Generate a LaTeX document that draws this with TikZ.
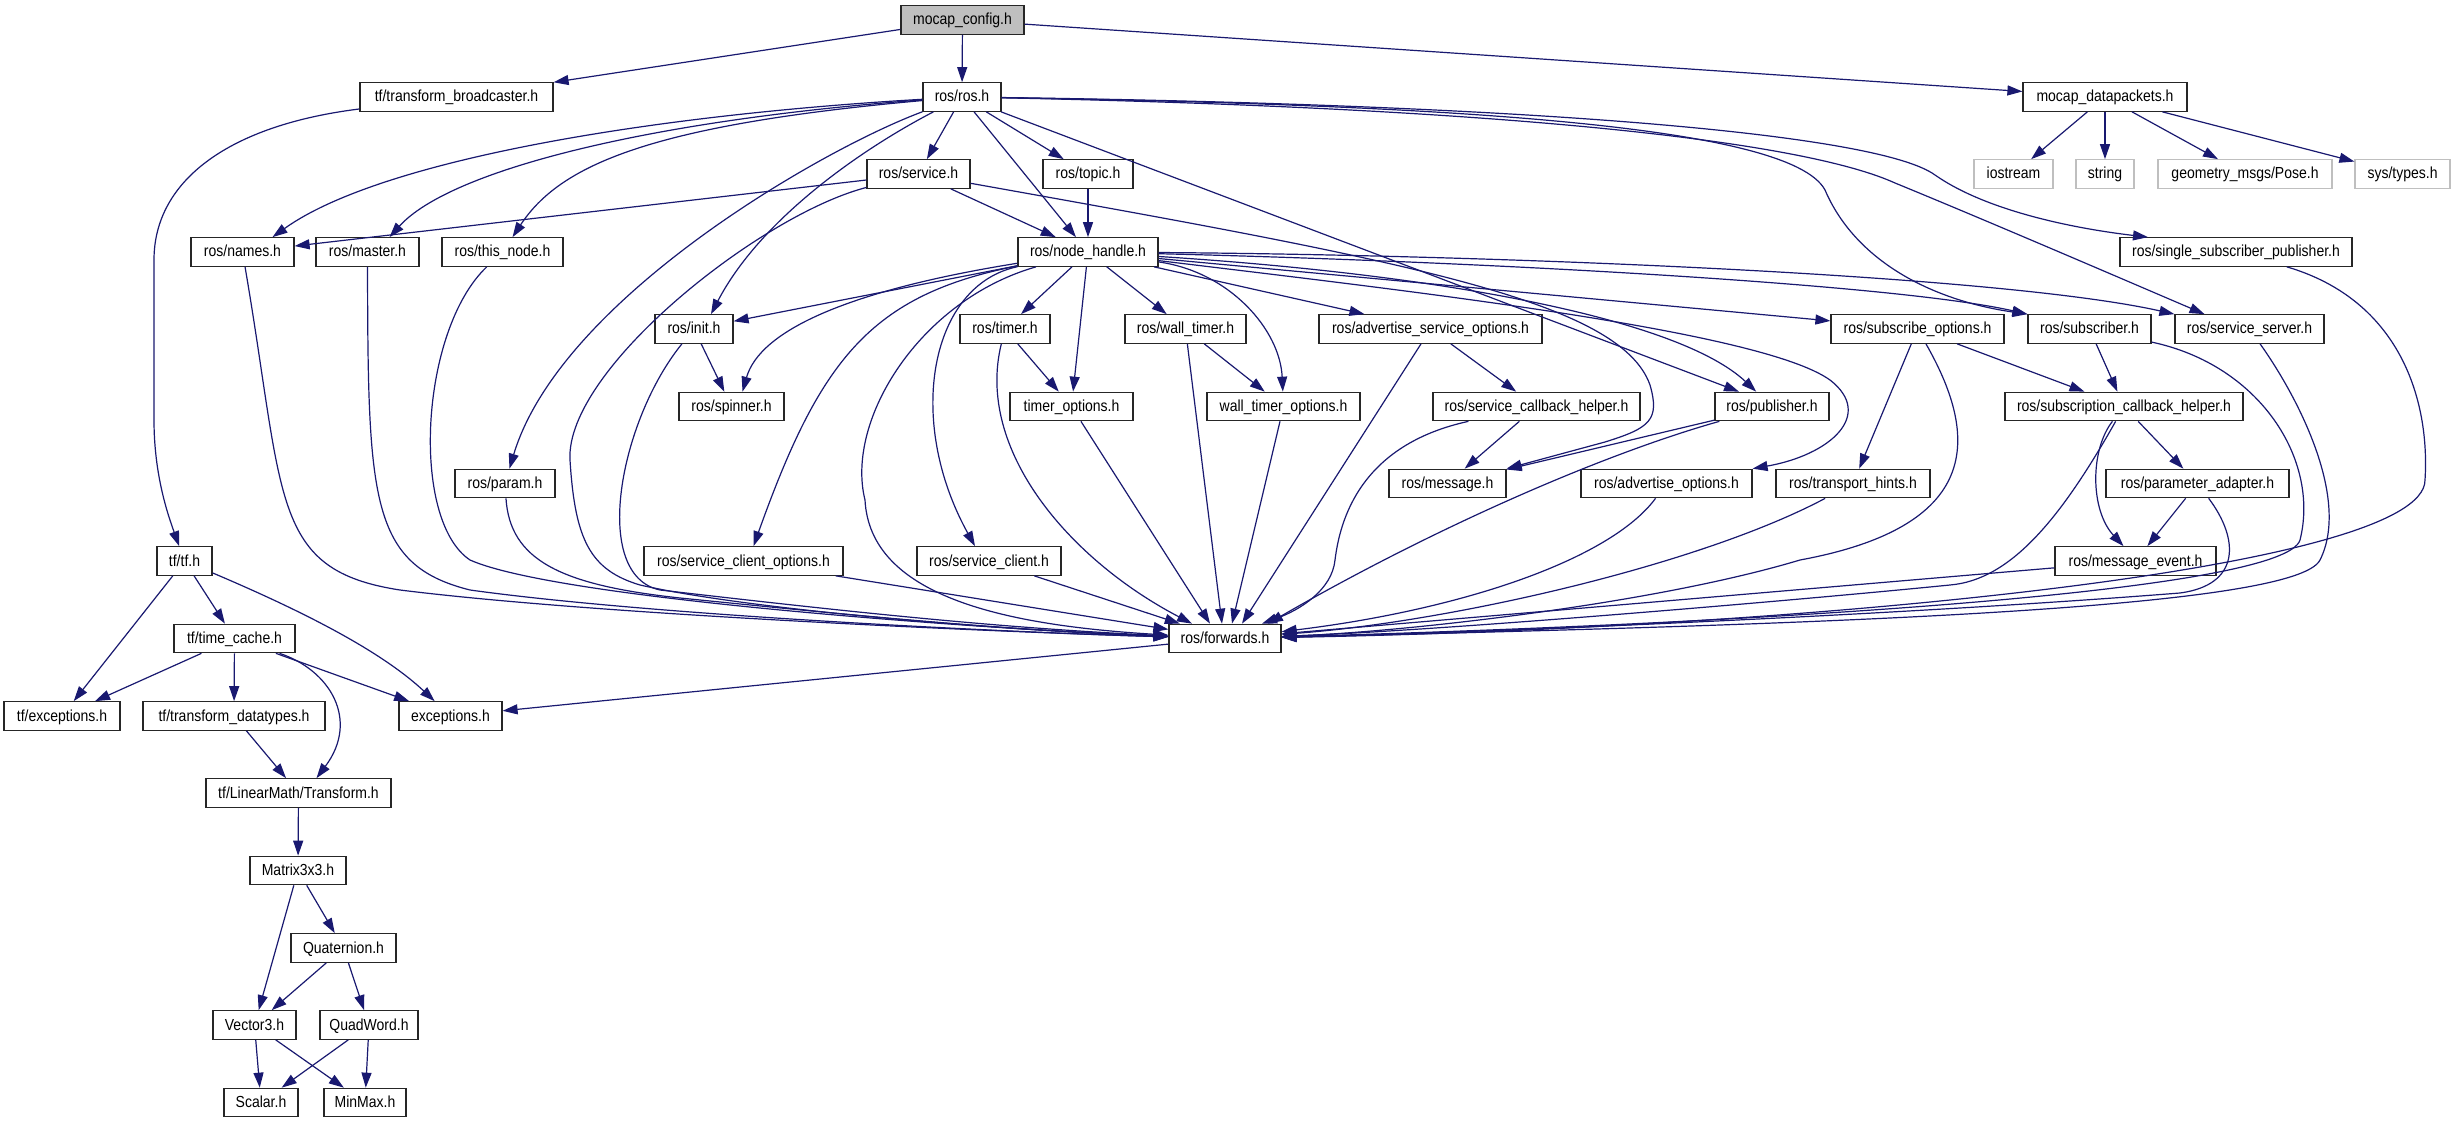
\documentclass[tikz,border=0pt]{standalone}
\usepackage{fontspec}
\newfontfamily\nodefont{Liberation Sans}[FakeStretch=0.875]
\usetikzlibrary{arrows.meta}
\definecolor{edgecol}{HTML}{191970}
\definecolor{rootgray}{HTML}{BFBFBF}
\definecolor{boxline}{HTML}{262626}
\begin{document}
\begin{tikzpicture}[x=1pt,y=-1pt,
  box/.style={draw=boxline, line width=1.2pt, fill=white, inner sep=0pt,
    minimum height=28.5pt, text height=11pt, text depth=1pt,
    font={\nodefont\fontsize{16}{18}\selectfont}},
  rootbox/.style={box, fill=rootgray},
  extbox/.style={box, draw=rootgray},
  edge/.style={draw=edgecol, line width=1.2pt, -{Triangle[length=15pt,width=10pt]}}]
\path[use as bounding box, fill=white] (0,0) rectangle (2455,1123);

% nodes
\node[rootbox, minimum width=123] (cfg) at (962.5,20) {mocap\_config.h};
\node[box, minimum width=193] (tfb) at (456.5,97) {tf/transform\_broadcaster.h};
\node[box, minimum width=78] (ros) at (962,97) {ros/ros.h};
\node[box, minimum width=164] (mdp) at (2105,97) {mocap\_datapackets.h};
\node[extbox, minimum width=79] (ios) at (2013.5,174) {iostream};
\node[extbox, minimum width=58] (str) at (2105,174) {string};
\node[extbox, minimum width=174] (geo) at (2245,174) {geometry\_msgs/Pose.h};
\node[extbox, minimum width=95] (sys) at (2402.5,174) {sys/types.h};
\node[box, minimum width=103] (srv) at (918.5,174) {ros/service.h};
\node[box, minimum width=90] (top) at (1088,174) {ros/topic.h};
\node[box, minimum width=103] (nam) at (242.5,252) {ros/names.h};
\node[box, minimum width=103] (mas) at (367.5,252) {ros/master.h};
\node[box, minimum width=121] (thn) at (502.5,252) {ros/this\_node.h};
\node[box, minimum width=140] (nh) at (1088,252) {ros/node\_handle.h};
\node[box, minimum width=232] (ssp) at (2236,252) {ros/single\_subscriber\_publisher.h};
\node[box, minimum width=78] (ini) at (694,329) {ros/init.h};
\node[box, minimum width=90] (tim) at (1005,329) {ros/timer.h};
\node[box, minimum width=121] (wtm) at (1185.5,329) {ros/wall\_timer.h};
\node[box, minimum width=223] (aso) at (1430.5,329) {ros/advertise\_service\_options.h};
\node[box, minimum width=173] (sbo) at (1917.5,329) {ros/subscribe\_options.h};
\node[box, minimum width=123] (sub) at (2089.5,329) {ros/subscriber.h};
\node[box, minimum width=149] (ssv) at (2249.5,329) {ros/service\_server.h};
\node[box, minimum width=105] (spn) at (731.5,406.5) {ros/spinner.h};
\node[box, minimum width=123] (tmo) at (1071.5,406.5) {timer\_options.h};
\node[box, minimum width=153] (wto) at (1283.5,406.5) {wall\_timer\_options.h};
\node[box, minimum width=207] (sch) at (1536.5,406.5) {ros/service\_callback\_helper.h};
\node[box, minimum width=114] (pub) at (1772,406.5) {ros/publisher.h};
\node[box, minimum width=238] (sbh) at (2124,406.5) {ros/subscription\_callback\_helper.h};
\node[box, minimum width=100] (par) at (505,483.5) {ros/param.h};
\node[box, minimum width=117] (msg) at (1447.5,483.5) {ros/message.h};
\node[box, minimum width=171] (ado) at (1666.5,483.5) {ros/advertise\_options.h};
\node[box, minimum width=154] (trh) at (1853,483.5) {ros/transport\_hints.h};
\node[box, minimum width=183] (pad) at (2197.5,483.5) {ros/parameter\_adapter.h};
\node[box, minimum width=55] (tftf) at (184.5,561) {tf/tf.h};
\node[box, minimum width=199] (sco) at (743.5,561) {ros/service\_client\_options.h};
\node[box, minimum width=144] (scl) at (989,561) {ros/service\_client.h};
\node[box, minimum width=161] (mev) at (2135.5,561) {ros/message\_event.h};
\node[box, minimum width=121] (tc) at (234.5,638.5) {tf/time\_cache.h};
\node[box, minimum width=112] (fwd) at (1225,638.5) {ros/forwards.h};
\node[box, minimum width=116] (tfe) at (62,716) {tf/exceptions.h};
\node[box, minimum width=182] (tfd) at (234,716) {tf/transform\_datatypes.h};
\node[box, minimum width=103] (exc) at (450.5,716) {exceptions.h};
\node[box, minimum width=185] (lmt) at (298.5,793) {tf/LinearMath/Transform.h};
\node[box, minimum width=96] (m33) at (298,870.5) {Matrix3x3.h};
\node[box, minimum width=105] (qua) at (343.5,948) {Quaternion.h};
\node[box, minimum width=83] (v3) at (254.5,1025) {Vector3.h};
\node[box, minimum width=98] (qw) at (369,1025) {QuadWord.h};
\node[box, minimum width=74] (sca) at (261,1102.5) {Scalar.h};
\node[box, minimum width=82] (mm) at (365,1102.5) {MinMax.h};

% top level
\draw[edge] (cfg) -- (tfb);
\draw[edge] (cfg) -- (ros);
\draw[edge] (cfg) -- (mdp);
\draw[edge] (mdp) -- (ios);
\draw[edge] (mdp) -- (str);
\draw[edge] (mdp) -- (geo);
\draw[edge] (mdp) -- (sys);
\draw[edge] (tfb) .. controls (230,125) and (154,180) .. (154,260) -- (154,420) .. controls (154,475) and (168,515) .. (tftf);

% ros/ros.h
\draw[edge] (ros) .. controls (650,115) and (380,160) .. ([xshift=30]nam.north);
\draw[edge] (ros) .. controls (650,120) and (450,170) .. ([xshift=22]mas.north);
\draw[edge] (ros) .. controls (650,125) and (560,165) .. ([xshift=10]thn.north);
\draw[edge] (ros) .. controls (860,150) and (760,220) .. ([xshift=17]ini.north);
\draw[edge] (ros) .. controls (820,150) and (560,300) .. (par);
\draw[edge] (ros) -- (srv);
\draw[edge] (ros) -- (top);
\draw[edge] (ros) -- (nh);
\draw[edge] (ros) -- ([xshift=-33]pub.north);
\draw[edge] (ros) .. controls (1450,105) and (1790,125) .. (1825,190) .. controls (1855,260) and (1930,300) .. (sub.north west);
\draw[edge] (ros) .. controls (1500,108) and (1800,140) .. (1895,183) .. controls (1990,222) and (2120,278) .. ([xshift=-45]ssv.north);
\draw[edge] (ros) .. controls (1550,105) and (1880,135) .. (1935,175) .. controls (1985,210) and (2070,228) .. ([xshift=-88]ssp.north);

% ros/service.h
\draw[edge] (srv) -- (nam);
\draw[edge] (srv) -- (nh);
\draw[edge] (srv) .. controls (760,215) and (565,370) .. (570,460) .. controls (575,540) and (590,570) .. (640,585) .. controls (750,610) and (1000,630) .. (fwd);
\draw[edge] (srv) .. controls (1400,260) and (1620,300) .. (1650,385) .. controls (1660,420) and (1650,428) .. (1605,442) -- (msg.north east);
\draw[edge] (top) -- (nh);

% into forwards from the left
\draw[edge] (nam) .. controls (285,500) and (270,570) .. (400,590) .. controls (600,615) and (1000,632) .. (fwd);
\draw[edge] (mas) .. controls (368,500) and (370,565) .. (470,590) .. controls (650,615) and (1000,632) .. (fwd);
\draw[edge] (thn) .. controls (420,330) and (410,520) .. (470,560) .. controls (560,600) and (1000,630) .. (fwd);
\draw[edge] (par) .. controls (510,560) and (560,585) .. (680,598) .. controls (850,615) and (1000,630) .. (fwd);
\draw[edge] (ini) .. controls (620,420) and (590,575) .. (660,590) .. controls (850,612) and (1000,628) .. (fwd);
\draw[edge] (ini) -- (spn);

% ros/node_handle.h
\draw[edge] (nh) -- (ini);
\draw[edge] (nh) .. controls (850,290) and (760,330) .. ([xshift=11]spn.north);
\draw[edge] (nh) .. controls (870,295) and (820,360) .. ([xshift=10]sco.north);
\draw[edge] (nh) .. controls (920,300) and (845,420) .. (865,500) .. controls (870,595) and (1000,625) .. (fwd);
\draw[edge] (nh) .. controls (930,285) and (905,420) .. ([xshift=-14]scl.north);
\draw[edge] (nh) -- (tim);
\draw[edge] (nh) -- (tmo);
\draw[edge] (nh) -- (wtm);
\draw[edge] (nh) .. controls (1230,272) and (1280,330) .. (wto);
\draw[edge] (nh) -- (aso);
\draw[edge] (nh) .. controls (1400,290) and (1760,330) .. (1830,380) .. controls (1875,415) and (1830,455) .. (ado.north east);
\draw[edge] (nh) .. controls (1450,275) and (1680,320) .. (pub);
\draw[edge] (nh) -- (sbo);
\draw[edge] (nh) .. controls (1500,262) and (1900,285) .. (sub.north west);
\draw[edge] (nh) .. controls (1500,255) and (2000,275) .. (ssv.north west);

% timers and options
\draw[edge] (tim) -- (tmo);
\draw[edge] (tim) .. controls (975,450) and (1070,560) .. ([xshift=-33]fwd.north);
\draw[edge] (tmo) -- ([xshift=-15]fwd.north);
\draw[edge] (wtm) -- (wto);
\draw[edge] (wtm) -- ([xshift=-3]fwd.north);
\draw[edge] (wto) -- ([xshift=7]fwd.north);
\draw[edge] (aso) -- (sch);
\draw[edge] (aso) -- ([xshift=17]fwd.north);
\draw[edge] (sch) -- (msg);
\draw[edge] (sch) .. controls (1360,445) and (1340,520) .. (1335,560) .. controls (1332,590) and (1300,610) .. ([xshift=37]fwd.north);
\draw[edge] (pub) -- (msg);
\draw[edge] (pub) .. controls (1600,455) and (1430,530) .. ([xshift=43]fwd.north);
\draw[edge] (ado) .. controls (1610,560) and (1460,610) .. (fwd);
\draw[edge] (trh) .. controls (1700,565) and (1450,622) .. (fwd);

% subscribe side
\draw[edge] (sbo) -- (trh);
\draw[edge] (sbo) -- (sbh);
\draw[edge] (sbo) .. controls (1975,430) and (1990,525) .. (1800,560) .. controls (1650,605) and (1400,632) .. (fwd);
\draw[edge] (sub) -- (sbh);
\draw[edge] (sub) .. controls (2260,365) and (2320,460) .. (2300,540) .. controls (2285,590) and (1800,622) .. (fwd);
\draw[edge] (ssv) .. controls (2300,400) and (2350,500) .. (2320,560) .. controls (2295,610) and (1800,625) .. (fwd);
\draw[edge] (ssp) .. controls (2400,300) and (2430,400) .. (2425,480) .. controls (2425,570) and (1800,628) .. (fwd);
\draw[edge] (sbh) -- (pad);
\draw[edge] (sbh) .. controls (2090,450) and (2090,510) .. ([xshift=-12]mev.north);
\draw[edge] (sbh) .. controls (2060,520) and (2010,580) .. (1950,585) .. controls (1800,600) and (1450,630) .. (fwd);
\draw[edge] (pad) -- (mev);
\draw[edge] (pad) .. controls (2240,540) and (2240,585) .. (2180,593) .. controls (1900,615) and (1500,632) .. (fwd);
\draw[edge] (mev) -- (fwd);
\draw[edge] (sco) -- (fwd);
\draw[edge] (scl) -- (fwd);
\draw[edge] (fwd) -- (exc);

% tf
\draw[edge] (tftf) -- (tfe);
\draw[edge] (tftf) -- (tc);
\draw[edge] (tftf) .. controls (300,610) and (380,650) .. (exc);
\draw[edge] (tc) -- (tfe);
\draw[edge] (tc) -- (tfd);
\draw[edge] (tc) -- (exc);
\draw[edge] (tc) .. controls (330,670) and (360,720) .. ([xshift=18]lmt.north);
\draw[edge] (tfd) -- (lmt);
\draw[edge] (lmt) -- (m33);
\draw[edge] (m33) -- (v3);
\draw[edge] (m33) -- (qua);
\draw[edge] (qua) -- (v3);
\draw[edge] (qua) -- (qw);
\draw[edge] (v3) -- (sca);
\draw[edge] (v3) -- (mm);
\draw[edge] (qw) -- (sca);
\draw[edge] (qw) -- (mm);
\end{tikzpicture}
\end{document}
